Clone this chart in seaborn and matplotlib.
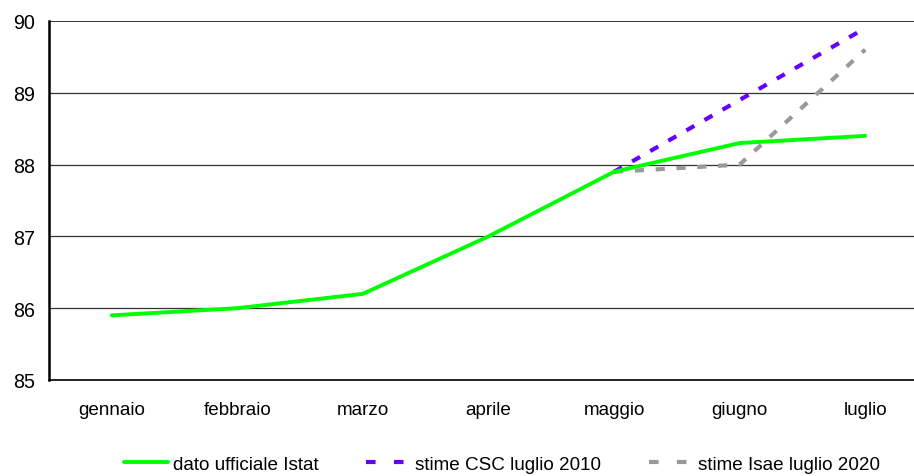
import matplotlib
matplotlib.use("Agg")
import matplotlib.pyplot as plt
import seaborn as sns
import pandas as pd
from matplotlib.lines import Line2D

mesi = ["gennaio", "febbraio", "marzo", "aprile", "maggio", "giugno", "luglio"]
istat = [85.9, 86.0, 86.2, 87.0, 87.9, 88.3, 88.4]
csc_mesi = ["maggio", "giugno", "luglio"]
csc = [87.9, 88.9, 89.9]
isae_mesi = ["maggio", "giugno", "luglio"]
isae = [87.9, 88.0, 89.6]

lbl_istat = "dato ufficiale Istat"
lbl_csc = "stime CSC luglio 2010"
lbl_isae = "stime Isae luglio 2020"

sns.set_style("white")
plt.rcParams["font.family"] = ["Liberation Sans", "DejaVu Sans"]
plt.rcParams["text.color"] = "black"
plt.rcParams["xtick.color"] = "black"
plt.rcParams["ytick.color"] = "black"
FS = 13.6

pos = {m: i for i, m in enumerate(mesi)}
df = pd.concat([
    pd.DataFrame({"x": [pos[m] for m in mesi], "y": istat, "serie": lbl_istat}),
    pd.DataFrame({"x": [pos[m] for m in csc_mesi], "y": csc, "serie": lbl_csc}),
    pd.DataFrame({"x": [pos[m] for m in isae_mesi], "y": isae, "serie": lbl_isae}),
])

colori = {lbl_istat: "#00FF00", lbl_csc: "#6600FF", lbl_isae: "#999999"}
dash = (2.2, 2.8)

fig = plt.figure(figsize=(9.14, 4.77), dpi=100)
ax = fig.add_axes([0.0536, 0.2013, 1.0153 - 0.0536, 0.9539 - 0.2013])

# horizontal gridlines behind the data
for v in [86, 87, 88, 89]:
    ax.axhline(v, color="#333333", lw=0.9, zorder=1)
ax.axhline(90, color="black", lw=1.1, zorder=1)

sns.lineplot(data=df[df.serie == lbl_isae], x="x", y="y", color=colori[lbl_isae],
             lw=3.0, ax=ax, legend=False, zorder=2)
ax.lines[-1].set_linestyle((0, dash))
sns.lineplot(data=df[df.serie == lbl_csc], x="x", y="y", color=colori[lbl_csc],
             lw=3.0, ax=ax, legend=False, zorder=3)
ax.lines[-1].set_linestyle((0, dash))
sns.lineplot(data=df[df.serie == lbl_istat], x="x", y="y", color=colori[lbl_istat],
             lw=2.8, ax=ax, legend=False, zorder=4)

ax.set_xlim(-0.5, 6.5)
ax.set_ylim(85, 90)
ax.set_yticks([85, 86, 87, 88, 89, 90])
ax.set_yticklabels(["85", "86", "87", "88", "89", "90"], fontsize=FS + 0.6)
ax.set_xticks([i - 0.5 for i in range(8)])
ax.set_xticklabels([])
ax.set_xticks(range(7), minor=True)
ax.set_xticklabels(mesi, minor=True, fontsize=FS)
ax.tick_params(axis="x", which="major", direction="out", length=7, width=1, color="black")
ax.tick_params(axis="x", which="minor", length=0, pad=15)
ax.tick_params(axis="y", direction="out", length=6, width=1, color="black", pad=4)
ax.set_xlabel("")
ax.set_ylabel("")

for s in ["top", "right"]:
    ax.spines[s].set_visible(False)
ax.spines["left"].set_linewidth(1.8)
ax.spines["bottom"].set_linewidth(1.2)
ax.spines["left"].set_color("black")
ax.spines["bottom"].set_color("black")

handles = [
    Line2D([], [], color=colori[lbl_istat], lw=2.8),
    Line2D([], [], color=colori[lbl_csc], lw=3.0, linestyle=(0, (2.3, 4.4))),
    Line2D([], [], color=colori[lbl_isae], lw=3.0, linestyle=(0, (2.3, 4.4))),
]
fig.legend(handles, [lbl_istat, lbl_csc, lbl_isae], loc="center", ncol=3,
           bbox_to_anchor=(0.549, 0.025), frameon=False, fontsize=FS,
           handlelength=2.35, handletextpad=0.27, columnspacing=2.5,
           borderpad=0, borderaxespad=0)

fig.savefig("out.png", dpi=100)
